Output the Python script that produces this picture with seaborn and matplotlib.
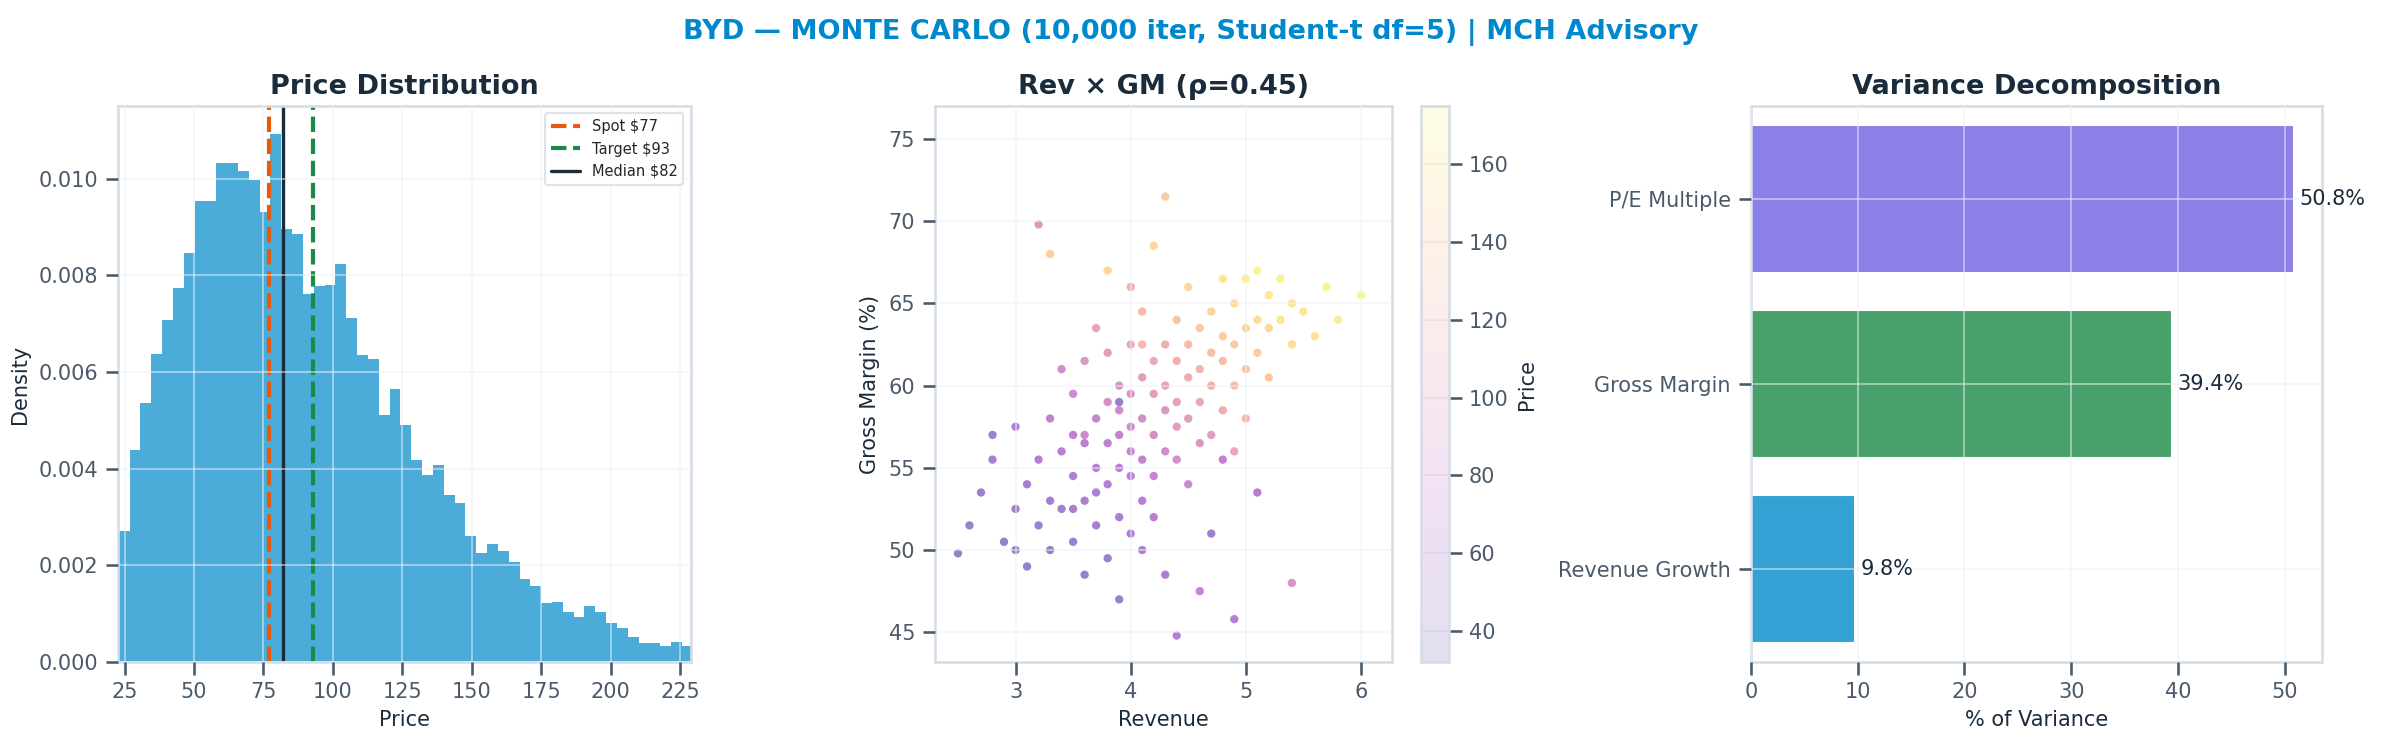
import numpy as np
import pandas as pd
import matplotlib
matplotlib.use("Agg")
import matplotlib.pyplot as plt
import seaborn as sns

# ---------------- data ----------------
hist_left_edge = 19.02
hist_bin_width = 3.9
hist_density = [0.00214, 0.00270, 0.00439, 0.00536, 0.00637, 0.00708, 0.00773, 0.00847,
                0.00953, 0.00953, 0.01033, 0.01033, 0.01015, 0.00998, 0.00930, 0.01093,
                0.00895, 0.00885, 0.00761, 0.00777, 0.00779, 0.00823, 0.00711, 0.00635,
                0.00627, 0.00511, 0.00564, 0.00490, 0.00418, 0.00387, 0.00408, 0.00346,
                0.00329, 0.00261, 0.00225, 0.00244, 0.00230, 0.00206, 0.00172, 0.00156,
                0.00121, 0.00123, 0.00104, 0.00092, 0.00116, 0.00103, 0.00080, 0.00071,
                0.00052, 0.00040, 0.00039, 0.00032, 0.00042, 0.00032]
spot, target, median = 77, 93, 82

rev = [2.5, 2.6, 2.7, 2.8, 2.9, 3.0, 3.0, 3.1, 3.1, 3.2, 3.2, 3.3, 3.3, 3.3, 3.4, 3.4, 3.4,
       3.5, 3.5, 3.5, 3.5, 3.6, 3.6, 3.6, 3.6, 3.7, 3.7, 3.7, 3.7, 3.7, 3.8, 3.8, 3.8, 3.8,
       3.8, 3.9, 3.9, 3.9, 3.9, 3.9, 3.9, 4.0, 4.0, 4.0, 4.0, 4.0, 4.0, 4.1, 4.1, 4.1, 4.1,
       4.1, 4.1, 4.2, 4.2, 4.2, 4.2, 4.2, 4.3, 4.3, 4.3, 4.3, 4.3, 4.4, 4.4, 4.4, 4.4, 4.4,
       4.5, 4.5, 4.5, 4.5, 4.5, 4.6, 4.6, 4.6, 4.6, 4.7, 4.7, 4.7, 4.7, 4.8, 4.8, 4.8, 4.8,
       4.9, 4.9, 4.9, 5.0, 5.0, 5.0, 5.0, 5.1, 5.1, 5.1, 5.2, 5.2, 5.2, 5.3, 5.3, 5.4, 5.4,
       5.5, 5.6, 5.7, 5.8, 6.0, 3.2, 3.6, 4.0, 4.3, 4.9, 3.0, 2.8, 4.6, 5.4, 3.9, 4.2, 4.8,
       3.5, 4.4, 5.1, 3.3, 4.7, 3.8, 4.1, 4.9]
gm = [49.8, 51.5, 53.5, 55.5, 50.5, 52.5, 57.5, 54.0, 49.0, 55.5, 51.5, 53.0, 58.0, 50.0,
      56.0, 52.5, 61.0, 54.5, 57.0, 50.5, 59.5, 53.0, 56.5, 48.5, 61.5, 55.0, 58.0, 51.5,
      63.5, 53.5, 56.5, 54.0, 59.0, 49.5, 62.0, 57.0, 55.0, 52.0, 60.0, 58.5, 47.0, 56.0,
      54.5, 59.5, 51.0, 62.5, 57.5, 58.0, 55.5, 53.0, 60.5, 64.5, 50.0, 57.0, 59.5, 54.5,
      61.5, 52.0, 58.5, 56.0, 62.5, 60.0, 48.5, 59.0, 61.5, 55.5, 64.0, 57.5, 60.5, 62.5,
      58.0, 66.0, 54.0, 61.0, 63.5, 59.0, 56.5, 62.0, 64.5, 60.0, 57.0, 61.5, 63.0, 66.5,
      58.5, 62.5, 65.0, 60.0, 63.5, 61.0, 66.5, 58.0, 64.0, 62.0, 67.0, 63.5, 65.5, 60.5,
      64.0, 66.5, 62.5, 65.0, 64.5, 63.0, 66.0, 64.0, 65.5, 69.8, 57.0, 66.0, 71.5, 56.0,
      50.0, 57.0, 47.5, 48.0, 59.0, 68.5, 55.5, 52.5, 44.8, 53.5, 68.0, 51.0, 67.0, 62.5, 45.8]
price = [38, 42, 45, 50, 40, 46, 58, 50, 38, 60, 45, 50, 70, 40, 62, 50, 85, 58, 68, 45,
         80, 55, 68, 42, 95, 62, 75, 50, 105, 57, 70, 62, 85, 45, 100, 72, 65, 55, 90, 82,
         45, 75, 68, 92, 55, 110, 82, 85, 75, 65, 100, 125, 55, 85, 100, 75, 112, 62, 95,
         82, 118, 105, 55, 102, 118, 85, 135, 98, 115, 128, 100, 150, 80, 120, 138, 110, 92,
         130, 148, 118, 100, 130, 142, 160, 115, 140, 155, 128, 148, 135, 165, 122, 155, 142,
         170, 152, 162, 138, 160, 168, 155, 162, 160, 158, 168, 165, 172, 95, 80, 120, 140,
         108, 40, 45, 75, 90, 40, 150, 70, 55, 60, 60, 145, 48, 150, 125, 62]

var_labels = ["Revenue Growth", "Gross Margin", "P/E Multiple"]
var_values = [9.8, 39.4, 50.8]
var_colors = ["#33a1d4", "#48a06a", "#8b7fe8"]

# ---------------- style ----------------
sns.set_theme(style="whitegrid")
plt.rcParams["font.family"] = ["DejaVu Sans"]
plt.rcParams.update({
    "axes.edgecolor": "#d5dde6", "grid.color": "#eef1f5", "grid.linewidth": 0.8,
    "xtick.color": "#4a5a6a", "ytick.color": "#4a5a6a", "xtick.labelsize": 10,
    "ytick.labelsize": 10, "axes.labelsize": 10, "axes.labelcolor": "#1a2b3c",
    "xtick.bottom": True, "ytick.left": True,
})
title_kw = dict(fontsize=13, fontweight="bold", color="#1a2b3c")

fig = plt.figure(figsize=(15.88, 4.947), dpi=150)
ax1 = fig.add_axes([0.0495, 0.108, 0.2405, 0.749])
ax2 = fig.add_axes([0.3925, 0.108, 0.1919, 0.749])
cax = fig.add_axes([0.5965, 0.108, 0.0118, 0.749])
ax3 = fig.add_axes([0.735, 0.108, 0.240, 0.749])

# ---- histogram ----
n = len(hist_density)
edges = [hist_left_edge + i * hist_bin_width for i in range(n + 1)]
centers = [hist_left_edge + (i + 0.5) * hist_bin_width for i in range(n)]
hdf = pd.DataFrame({"price": centers, "w": hist_density})
sns.histplot(data=hdf, x="price", weights="w", bins=edges, stat="count",
             color="#33a1d4", alpha=0.88, edgecolor="none", linewidth=0, ax=ax1)
ax1.axvline(spot, color="#e8590c", ls="--", lw=2, label=f"Spot ${spot}")
ax1.axvline(target, color="#1a8a4a", ls="--", lw=2, label=f"Target ${target}")
ax1.axvline(median, color="#1a2b3c", ls="-", lw=1.6, label=f"Median ${median}")
ax1.set_xlim(22.6, 228.9)
ax1.set_ylim(0, 0.0115)
ax1.set_xticks([25, 50, 75, 100, 125, 150, 175, 200, 225])
ax1.set_xlabel("Price")
ax1.set_ylabel("Density")
ax1.set_title("Price Distribution", **title_kw)
ax1.legend(loc="upper right", fontsize=7, frameon=True, edgecolor="#d5dde6")

# ---- scatter ----
sdf = pd.DataFrame({"rev": rev, "gm": gm, "price": price})
sc = ax2.scatter(sdf["rev"], sdf["gm"], c=sdf["price"], cmap="plasma", s=16,
                 alpha=0.5, vmin=32, vmax=175, linewidths=0)
ax2.set_xlim(2.3, 6.27)
ax2.set_ylim(43.2, 77)
ax2.set_xticks([3, 4, 5, 6])
ax2.set_xlabel("Revenue")
ax2.set_ylabel("Gross Margin (%)")
ax2.set_title("Rev × GM (ρ=0.45)", **title_kw)
cb = fig.colorbar(sc, cax=cax)
cb.solids.set_alpha(0.12)
cb.set_label("Price", fontsize=10, color="#1a2b3c")
cb.outline.set_edgecolor("#d5dde6")
cax.tick_params(labelsize=10, colors="#4a5a6a")

# ---- variance ----
vdf = pd.DataFrame({"label": var_labels, "val": var_values})
sns.barplot(data=vdf, y="label", x="val", hue="label", palette=var_colors,
            orient="h", order=var_labels[::-1], width=0.8, legend=False, ax=ax3,
            saturation=1, alpha=1)
for lab, v in zip(var_labels, var_values):
    ax3.text(v + 0.5, var_labels[::-1].index(lab), f"{v}%", va="center", fontsize=10,
             color="#1a2b3c")
ax3.set_xlim(0, 53.5)
ax3.set_xlabel("% of Variance")
ax3.set_ylabel("")
ax3.set_title("Variance Decomposition", **title_kw)
for ax in (ax1, ax2, ax3):
    ax.set_axisbelow(False)
    ax.grid(True, color="#eef1f5", alpha=0.6)
    for s in ax.spines.values():
        s.set_edgecolor("#d5dde6")

fig.suptitle("BYD — MONTE CARLO (10,000 iter, Student-t df=5) | MCH Advisory",
             fontsize=13, fontweight="bold", color="#0088cc", y=0.975)
fig.savefig("out.png", dpi=150)
